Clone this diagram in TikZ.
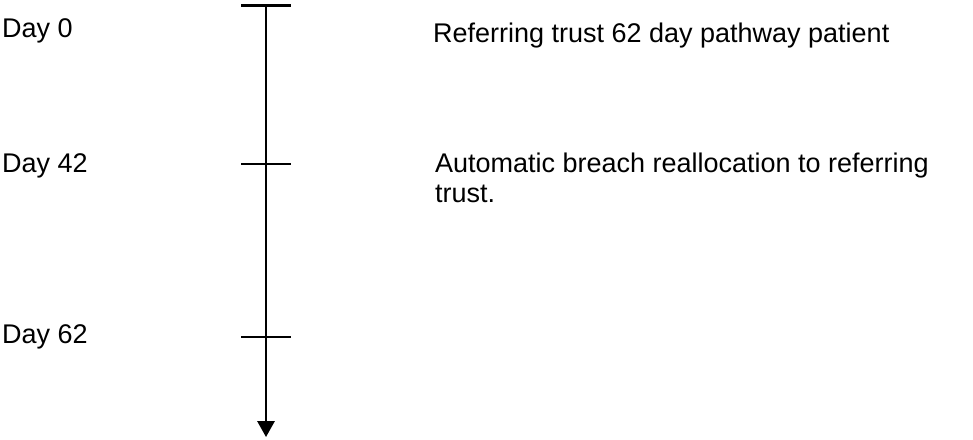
\documentclass[tikz,border=0pt]{standalone}
\usepackage{fontspec}
\setmainfont{Liberation Sans}
\usetikzlibrary{arrows.meta}
\begin{document}
\begin{tikzpicture}[x=0.75pt,y=-0.75pt,line width=1.6pt]
            \useasboundingbox (0,0) rectangle (973,439);
            \begin{scope}[every node/.style={inner sep=0pt,anchor=base west,font=\fontsize{20.25}{22}\selectfont}]
                \node (day0) at (1,37) {Day 0};
                \node (day42) at (1,172) {Day 42};
                \node (day62) at (1,343) {Day 62};

                \node (refer) at (432,42) {Referring trust 62 day pathway patient};

                % base of a two-line node is its last line
                \node[align=left] (breach) at (434,202) {Automatic breach reallocation to referring\\trust.};
            \end{scope}
                \coordinate (t0) at (266,5.5);
                \coordinate (t42) at (266,164);
                \coordinate (t62) at (266,337);
                \coordinate (tend) at (266,437);
                \path [draw,-{Triangle[length=12pt,width=13pt]}] (t0) -- (tend);
                \draw ([xshift=-18.75pt]t0) -- ([xshift=18.75pt]t0);
                \draw ([xshift=-18.75pt]t42) -- ([xshift=18.75pt]t42);
                \draw ([xshift=-18.75pt]t62) -- ([xshift=18.75pt]t62);
            \end{tikzpicture}
\end{document}
